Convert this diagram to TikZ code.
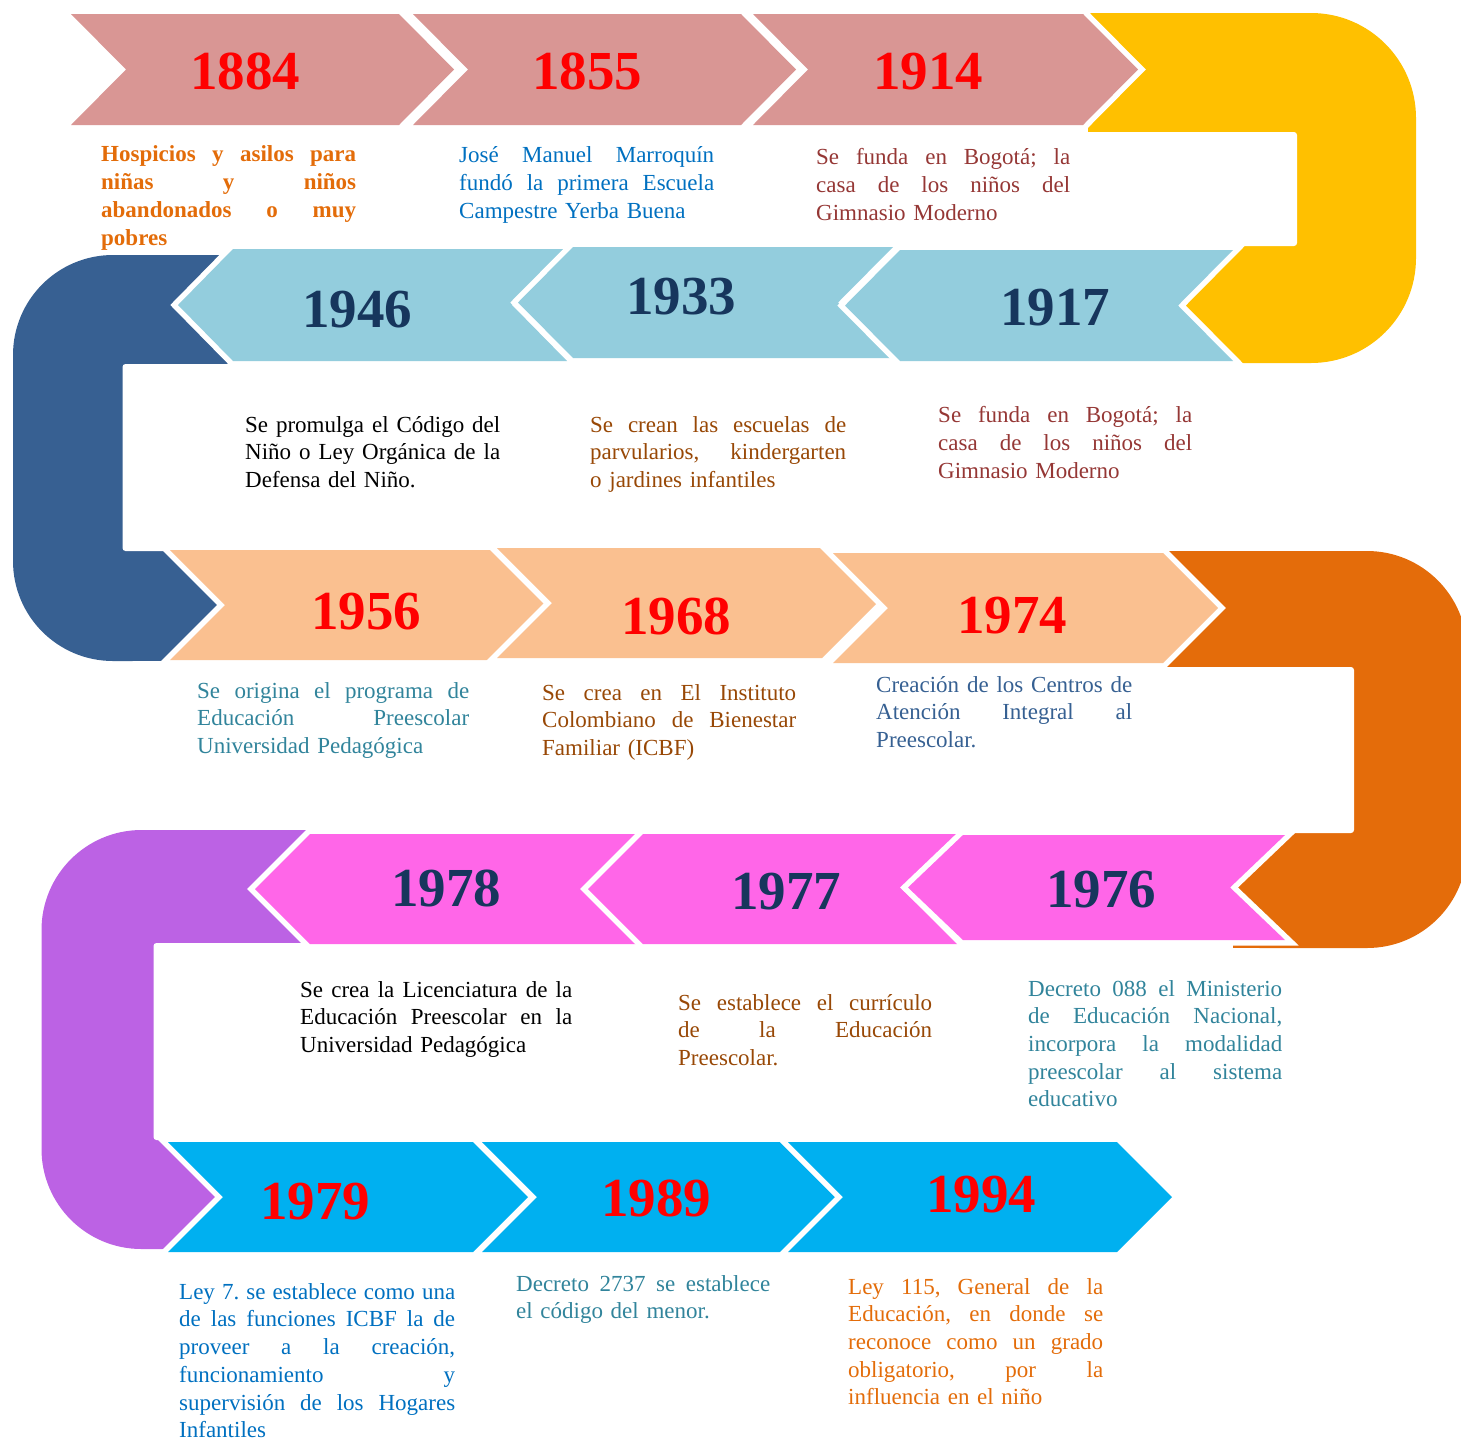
\documentclass[tikz,border=0pt]{standalone}
\usepackage{fontspec}
\setmainfont{Liberation Serif}
\definecolor{rowA}{HTML}{D99694}
\definecolor{rowB}{HTML}{93CDDD}
\definecolor{rowC}{HTML}{FAC090}
\definecolor{rowD}{HTML}{FF66E8}
\definecolor{rowE}{HTML}{00B0F0}
\definecolor{uYellow}{HTML}{FFC000}
\definecolor{uBlue}{HTML}{376092}
\definecolor{uOrange}{HTML}{E46C0A}
\definecolor{uPurple}{HTML}{BC62E4}
\definecolor{yrRed}{HTML}{FF0000}
\definecolor{yrNavy}{HTML}{17365D}
\definecolor{tOrange}{HTML}{E36C09}
\definecolor{tBlue}{HTML}{0070C0}
\definecolor{tRed}{HTML}{953735}
\definecolor{tBrown}{HTML}{984806}
\definecolor{tTeal}{HTML}{31849B}
\definecolor{tSlate}{HTML}{366092}
\newlength\jw
\newcommand\bodyfont{\fontsize{23}{27.7}\selectfont\frenchspacing}
\newcommand\J[1]{{\spaceskip=0pt\xspaceskip=0pt\makebox[\jw][s]{#1}}\\}
\newcommand\chevR[5]{\path[chev=#1] (#2,#4) -- (#3,#4) -- ({#3+55},{(#4+#5)/2}) -- (#3,#5) -- (#2,#5) -- ({#2+55},{(#4+#5)/2}) -- cycle;}
\newcommand\chevL[5]{\path[chev=#1] ({#2+55},#4) -- (#3,#4) -- ({#3-55},{(#4+#5)/2}) -- (#3,#5) -- ({#2+55},#5) -- (#2,{(#4+#5)/2}) -- cycle;}
\tikzset{
  chev/.style={fill=#1, preaction={draw=white, line width=11pt, line join=miter}},
  yr/.style={anchor=base, inner sep=0pt, font=\fontsize{55}{60}\selectfont\bfseries},
  body/.style={anchor=north west, inner sep=0pt, font=\bodyfont, align=left,
    text width=#1, /utils/exec={\global\jw=#1\relax}},
  hole/.style={fill=white, rounded corners=3pt},
}
\begin{document}
\begin{tikzpicture}[x=1pt,y=-1pt]
\useasboundingbox (0,0) rectangle (1461,1441);
\clip (0,0) rectangle (1461,1441);
% U-shaped connectors
\fill[uYellow, rounded corners=105pt] (1088,13) rectangle (1416,363);
\fill[uYellow] (1088,13) rectangle (1300,363);
\path[hole] (1080,132) rectangle (1297,246);
\fill[uBlue, rounded corners=100pt] (13,255) rectangle (232,661);
\fill[uBlue] (120,255) rectangle (232,661);
\path[hole] (122.5,364) rectangle (300,551);
\fill[uOrange, rounded corners=100pt] (1160,551) rectangle (1467,948);
\fill[uOrange] (1160,551) rectangle (1300,700);
\fill[uOrange] (1233,800) rectangle (1300,948);
\path[hole] (1100,667) rectangle (1354,833);
\fill[uPurple, rounded corners=100pt] (41.5,830) rectangle (306,1249);
\fill[uPurple] (150,830) rectangle (306,1249);
\path[hole] (153.5,943) rectangle (320,1140);
% row 1
\chevR{rowA}{71}{399}{14}{125}
\chevR{rowA}{413}{741}{14}{125}
\chevR{rowA}{753}{1083}{14}{125}
% row 2
\chevL{rowB}{178}{567}{249}{361}
\chevL{rowB}{518}{893}{247}{358}
\chevL{rowB}{845}{1233}{250}{361}
% row 3
\chevR{rowC}{170}{490}{550}{660}
\chevR{rowC}{497}{822}{548}{658}
\chevR{rowC}{833}{1163}{553}{663}
% row 4
\chevL{rowD}{255}{640}{834}{944}
\chevL{rowD}{588}{957}{834}{944}
\chevL{rowD}{908}{1285}{835}{940}
% row 5
\chevR{rowE}{168}{473}{1142}{1252}
\chevR{rowE}{482}{780}{1142}{1252}
\chevR{rowE}{788}{1117}{1142}{1252}
% years
\node[yr, text=yrRed] (y1884) at (245,89) {1884};
\node[yr, text=yrRed] (y1855) at (587,89) {1855};
\node[yr, text=yrRed] (y1914) at (928,89) {1914};
\node[yr, text=yrNavy] (y1946) at (357,327) {1946};
\node[yr, text=yrNavy] (y1933) at (681,314) {1933};
\node[yr, text=yrNavy] (y1917) at (1055,325) {1917};
\node[yr, text=yrRed] (y1956) at (366,629) {1956};
\node[yr, text=yrRed] (y1968) at (676,634) {1968};
\node[yr, text=yrRed] (y1974) at (1012,633) {1974};
\node[yr, text=yrNavy] (y1978) at (446,906) {1978};
\node[yr, text=yrNavy] (y1977) at (786,909) {1977};
\node[yr, text=yrNavy] (y1976) at (1101,907) {1976};
\node[yr, text=yrRed] (y1979) at (315,1219) {1979};
\node[yr, text=yrRed] (y1989) at (656,1216) {1989};
\node[yr, text=yrRed] (y1994) at (981,1212) {1994};
% descriptions
\node[body=255pt, text=tOrange, font=\bodyfont\bfseries] (t1884) at (101,142.4)
  {\strut\J{Hospicios y asilos para}\J{niñas y niños}\J{abandonados o muy}pobres};
\node[body=255pt, text=tBlue] (t1855) at (459,143.4)
  {\strut\J{José Manuel Marroquín}\J{fundó la primera Escuela}Campestre Yerba Buena};
\node[body=254pt, text=tRed] (t1914) at (816,145.4)
  {\strut\J{Se funda en Bogotá; la}\J{casa de los niños del}Gimnasio Moderno};
\node[body=255pt, text=black] (t1946) at (245,412.4)
  {\strut\J{Se promulga el Código del}\J{Niño o Ley Orgánica de la}Defensa del Niño.};
\node[body=256pt, text=tBrown] (t1933) at (590,412.4)
  {\strut\J{Se crean las escuelas de}\J{parvularios, kindergarten}o jardines infantiles};
\node[body=254pt, text=tRed] (t1917) at (938,403.4)
  {\strut\J{Se funda en Bogotá; la}\J{casa de los niños del}Gimnasio Moderno};
\node[body=272pt, text=tTeal] (t1956) at (197,678.4)
  {\strut\J{Se origina el programa de}\J{Educación Preescolar}Universidad Pedagógica};
\node[body=254pt, text=tBrown] (t1968) at (542,680.4)
  {\strut\J{Se crea en El Instituto}\J{Colombiano de Bienestar}Familiar (ICBF)};
\node[body=256pt, text=tSlate] (t1974) at (876,672.4)
  {\strut\J{Creación de los Centros de}\J{Atención Integral al}Preescolar.};
\node[body=272pt, text=black] (t1978) at (300,977.4)
  {\strut\J{Se crea la Licenciatura de la}\J{Educación Preescolar en la}Universidad Pedagógica};
\node[body=254pt, text=tBrown] (t1977) at (678,990.4)
  {\strut\J{Se establece el currículo}\J{de la Educación}Preescolar.};
\node[body=254pt, text=tTeal] (t1976) at (1028,976.4)
  {\strut\J{Decreto 088 el Ministerio}\J{de Educación Nacional,}\J{incorpora la modalidad}\J{preescolar al sistema}educativo};
\node[body=276pt, text=tBlue] (t1979) at (179,1279.6)
  {\strut\J{Ley 7. se establece como una}\J{de las funciones ICBF la de}\J{proveer a la creación,}\J{funcionamiento y}\J{supervisión de los Hogares}Infantiles};
\node[body=254pt, text=tTeal] (t1989) at (516,1271.4)
  {\strut\J{Decreto 2737 se establece}el código del menor.};
\node[body=255pt, text=tOrange] (t1994) at (848,1274.4)
  {\strut\J{Ley 115, General de la}\J{Educación, en donde se}\J{reconoce como un grado}\J{obligatorio, por la}influencia en el niño};
\end{tikzpicture}
\end{document}
